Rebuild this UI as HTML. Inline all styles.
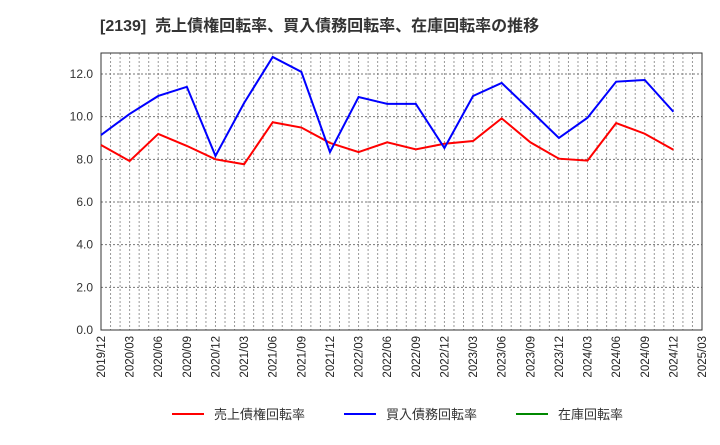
<!DOCTYPE html>
<html><head><meta charset="utf-8"><style>
body{margin:0;background:#fff;font-family:"Liberation Sans","Noto Sans CJK JP",sans-serif;}
svg text{font-family:"Liberation Sans","Noto Sans CJK JP",sans-serif;}
</style></head><body>
<svg id="c" width="720" height="440" xmlns="http://www.w3.org/2000/svg">
<text x="100" y="31" font-size="16" font-weight="bold" fill="#333" xml:space="preserve">[2139]  売上債権回転率、買入債務回転率、在庫回転率の推移</text>
<g id="grid"></g><g id="axes"></g><g id="series"></g>
<g>
<line x1="172" y1="414" x2="204" y2="414" stroke="#f00" stroke-width="2"/>
<text x="214" y="419" font-size="13" fill="#333">売上債権回転率</text>
<line x1="344" y1="414" x2="376" y2="414" stroke="#00f" stroke-width="2"/>
<text x="386" y="419" font-size="13" fill="#333">買入債務回転率</text>
<line x1="516" y1="414" x2="548" y2="414" stroke="#080" stroke-width="2"/>
<text x="558" y="419" font-size="13" fill="#333">在庫回転率</text>
</g>
</svg>
<script>
const xLabels=["2019/12","2020/03","2020/06","2020/09","2020/12","2021/03","2021/06","2021/09","2021/12","2022/03","2022/06","2022/09","2022/12","2023/03","2023/06","2023/09","2023/12","2024/03","2024/06","2024/09","2024/12","2025/03"];
const yTicks=[0,2,4,6,8,10,12];
const receivables=[8.67,7.92,9.19,8.63,8.0,7.77,9.74,9.49,8.77,8.34,8.8,8.47,8.73,8.86,9.92,8.8,8.03,7.94,9.70,9.2,8.45];
const payables=[9.14,10.13,10.97,11.4,8.16,10.64,12.8,12.1,8.34,10.92,10.6,10.6,8.53,10.97,11.58,10.3,9.0,9.95,11.64,11.72,10.23];
const L=101,R=702,T=53,B=330;
const X=i=>L+(R-L)*i/21;
const Y=v=>B-v*(330-74)/12;
const NS="http://www.w3.org/2000/svg";
function mk(p,t,a){const e=document.createElementNS(NS,t);for(const k in a)e.setAttribute(k,a[k]);p.appendChild(e);return e;}
const g=document.getElementById('grid'),ax=document.getElementById('axes'),s=document.getElementById('series');
for(let m=1;m<63;m++){const x=L+(R-L)*m/63;
const l=mk(g,'line',{x1:x,y1:T,x2:x,y2:B,stroke:'#999','stroke-width':1,'stroke-dasharray':'2,2'});

}
yTicks.forEach(v=>{const y=Y(v);
if(v>0){const l=mk(g,'line',{x1:L,y1:y,x2:R,y2:y,stroke:'#777','stroke-width':1,'stroke-dasharray':'2,2'});

}
const t=mk(ax,'text',{x:93,y:y+4,'font-size':12,fill:'#333','text-anchor':'end'});t.textContent=v.toFixed(1);

});
xLabels.forEach((lb,i)=>{const x=X(i);
const t=mk(ax,'text',{x:0,y:0,'font-size':11.5,fill:'#222','text-anchor':'end',transform:`translate(${x+4},336) rotate(-90)`});t.textContent=lb;

});
const fr=mk(ax,'rect',{x:L,y:T,width:R-L,height:B-T,fill:'none',stroke:'#333','stroke-width':1});


function line(d,c,n){const p=mk(s,'polyline',{points:d.map((v,i)=>X(i)+','+Y(v)).join(' '),fill:'none',stroke:c,'stroke-width':2});

}
line(receivables,'#f00','receivables-turnover-line');
line(payables,'#00f','payables-turnover-line');
</script>
</body></html>
